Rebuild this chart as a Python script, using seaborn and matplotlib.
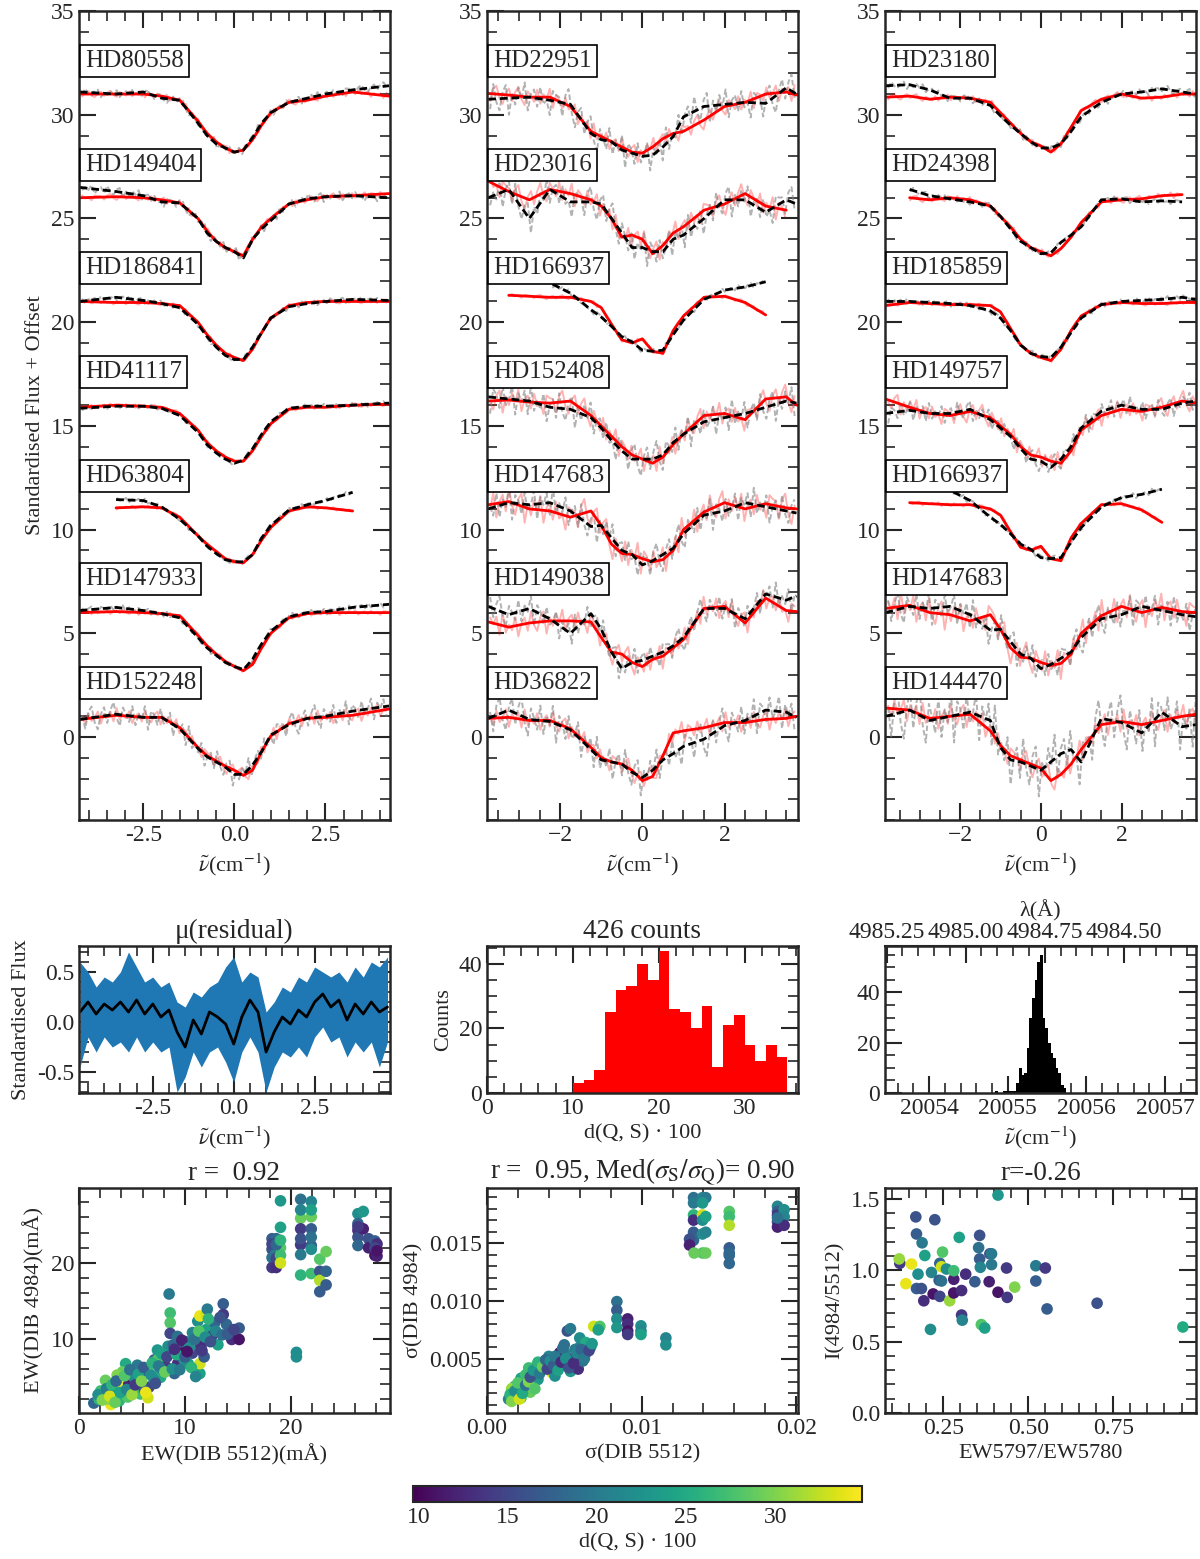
import numpy as np
import pandas as pd
import matplotlib
matplotlib.use("Agg")
import matplotlib.pyplot as plt
import matplotlib.transforms as mtransforms
from matplotlib.colors import Normalize
from matplotlib.ticker import MultipleLocator, FixedLocator, FormatStrFormatter
import seaborn as sns

sns.set_style("ticks")
plt.rcParams["font.family"] = ["Liberation Serif", "DejaVu Serif"]
plt.rcParams["mathtext.fontset"] = "stix"
plt.rcParams["font.size"] = 16
plt.rcParams["axes.linewidth"] = 1.5
plt.rcParams["lines.dashed_pattern"] = [2.8, 1.4]

nan = np.nan
NU = r"$\tilde{\nu}$(cm$^{-1}$)"
TICK_FS, LABEL_FS, TITLE_FS = 17, 16, 19.5

# ---------------- top row: spectra (flux + offset) ----------------
G1 = [-4.25, -3.25, -2.5, -2.0, -1.5, -1.0, -0.75, -0.5, -0.25, 0.0, 0.25, 0.5, 0.75,
      1.0, 1.5, 2.0, 2.5, 3.25, 4.25]
G2 = [-3.75, -3.25, -2.75, -2.25, -1.75, -1.25, -1.0, -0.75, -0.5, -0.25, 0.0, 0.25, 0.5,
      0.75, 1.0, 1.5, 2.0, 2.5, 3.0, 3.5, 3.75]
G3 = [-3.85, -3.25, -2.75, -2.25, -1.75, -1.25, -1.0, -0.75, -0.5, -0.25, 0.0, 0.25, 0.5,
      0.75, 1.0, 1.5, 2.0, 2.5, 3.0, 3.5, 3.85]

COL1_NAMES = ["HD80558", "HD149404", "HD186841", "HD41117", "HD63804", "HD147933", "HD152248"]
COL1_MODEL = [
    [31.0, 31.0, 31.0, 30.9, 30.7, 29.7, 29.1, 28.7, 28.4, 28.2, 28.3, 28.8, 29.5, 30.1, 30.6, 30.7, 30.9, 31.1, 30.9],
    [26.0, 26.05, 26.0, 25.9, 25.75, 25.0, 24.4, 23.9, 23.6, 23.4, 23.2, 24.0, 24.6, 25.0, 25.7, 25.9, 26.05, 26.1, 26.2],
    [21.0, 20.95, 20.95, 20.9, 20.8, 20.0, 19.4, 18.9, 18.5, 18.3, 18.15, 18.7, 19.5, 20.2, 20.8, 20.95, 21.0, 21.0, 21.0],
    [15.9, 16.0, 15.95, 15.9, 15.6, 14.8, 14.2, 13.8, 13.5, 13.3, 13.3, 13.8, 14.5, 15.1, 15.8, 15.9, 15.9, 16.0, 16.05],
    [nan, 11.05, 11.1, 11.05, 10.6, 9.7, 9.3, 8.95, 8.6, 8.45, 8.4, 8.8, 9.5, 10.1, 10.9, 11.1, 11.05, 10.9, nan],
    [6.0, 6.05, 6.0, 5.95, 5.85, 4.9, 4.4, 4.0, 3.65, 3.4, 3.2, 3.5, 4.3, 5.0, 5.75, 5.95, 6.0, 6.0, 6.0],
    [0.85, 1.05, 0.95, 0.95, 0.45, -0.5, -0.9, -1.15, -1.4, -1.6, -1.85, -1.6, -0.7, 0.05, 0.65, 0.9, 0.95, 1.05, 1.35],
]
COL1_OBS = [
    [31.1, 31.0, 31.1, 30.8, 30.7, 29.6, 29.0, 28.6, 28.4, 28.2, 28.3, 28.9, 29.6, 30.1, 30.6, 30.8, 31.0, 31.2, 31.4],
    [26.5, 26.3, 26.1, 25.8, 25.75, 25.0, 24.3, 23.9, 23.6, 23.4, 23.1, 24.0, 24.5, 24.9, 25.7, 25.95, 26.05, 26.1, 26.0],
    [21.0, 21.2, 21.05, 20.9, 20.7, 19.9, 19.3, 18.8, 18.4, 18.2, 18.2, 18.8, 19.5, 20.2, 20.75, 20.9, 21.0, 21.1, 21.05],
    [15.85, 15.95, 15.95, 15.85, 15.5, 14.7, 14.1, 13.7, 13.4, 13.2, 13.35, 13.9, 14.6, 15.2, 15.85, 15.95, 15.95, 16.0, 16.1],
    [nan, 11.45, 11.4, 11.1, 10.5, 9.7, 9.2, 8.85, 8.55, 8.45, 8.45, 8.8, 9.6, 10.2, 10.95, 11.2, 11.4, 11.8, nan],
    [6.1, 6.25, 6.1, 5.95, 5.75, 4.8, 4.3, 3.95, 3.6, 3.4, 3.25, 3.75, 4.5, 5.1, 5.8, 6.0, 6.05, 6.25, 6.4],
    [0.85, 1.1, 0.95, 0.95, 0.4, -0.55, -0.95, -1.2, -1.45, -1.8, -1.8, -1.35, -0.7, 0.1, 0.6, 0.9, 1.0, 1.25, 1.5],
]
COL1_NOISE = [(0.15, 0.2), (0.15, 0.25), (0.1, 0.15), (0.1, 0.12), (0.08, 0.12), (0.12, 0.15), (0.35, 0.6)]

COL2_NAMES = ["HD22951", "HD23016", "HD166937", "HD152408", "HD147683", "HD149038", "HD36822"]
COL2_MODEL = [
    [31.03, 30.95, 30.85, 30.85, 30.4, 29.2, 28.95, 28.7, 28.45, 28.2, 28.15, 28.45, 28.85, 29.1, 29.2, 29.75, 30.4, 30.6, 31.0, 31.1, 30.95],
    [26.8, 26.3, 25.9, 26.4, 26.2, 25.9, 25.6, 25.0, 24.1, 24.2, 24.0, 23.3, 23.7, 24.3, 24.6, 25.4, 25.7, 26.2, 25.6, 25.4, nan],
    [nan, 21.3, 21.25, 21.2, 21.2, 21.0, 20.7, 19.9, 19.15, 19.0, 19.2, 18.6, 18.5, 19.6, 20.3, 21.2, 21.25, 20.95, 20.35, nan, nan],
    [16.2, 16.25, 16.15, 16.1, 16.2, 15.5, 15.0, 14.5, 14.0, 13.6, 13.4, 13.2, 13.5, 14.1, 14.6, 15.5, 15.6, 15.3, 16.3, 16.4, 16.0],
    [11.2, 11.35, 11.0, 10.9, 10.6, 10.9, 10.2, 9.3, 8.85, 8.8, 8.6, 8.45, 8.55, 9.0, 10.0, 10.85, 11.3, 11.0, 11.25, 11.05, 11.0],
    [5.55, 5.3, 5.5, 5.6, 5.6, 5.55, 4.8, 4.1, 4.0, 3.6, 3.4, 3.75, 3.9, 4.3, 4.7, 6.2, 6.3, 5.5, 6.7, 6.1, 6.05],
    [0.9, 0.95, 0.8, 0.8, 0.4, -0.5, -1.0, -1.2, -1.3, -1.6, -2.1, -1.9, -0.9, 0.2, 0.3, 0.45, 0.7, 0.7, 0.85, 0.9, 1.0],
]
COL2_OBS = [
    [30.75, 30.8, 30.85, 30.7, 30.5, 29.1, 28.8, 28.7, 28.3, 28.15, 28.0, 28.05, 28.45, 28.95, 29.9, 30.4, 30.5, 30.6, 30.55, 31.3, 31.0],
    [26.0, 26.4, 25.0, 26.4, 25.8, 25.8, 25.7, 25.0, 24.3, 23.6, 23.6, 23.4, 23.4, 24.0, 24.2, 25.0, 25.9, 25.9, 25.3, 25.9, 25.7],
    [nan, 22.6, 22.3, 21.9, 21.4, 20.6, 20.25, 19.8, 19.3, 19.05, 18.65, 18.6, 18.65, 19.4, 20.1, 21.1, 21.55, 21.7, 21.95, nan, nan],
    [16.4, 16.3, 16.2, 15.9, 15.8, 15.4, 14.9, 14.3, 13.8, 13.4, 13.4, 13.4, 13.6, 14.2, 14.6, 15.2, 15.4, 15.6, 15.9, 16.2, 16.1],
    [11.0, 11.3, 11.2, 11.3, 10.9, 10.15, 10.2, 9.6, 9.0, 8.8, 8.3, 8.5, 8.8, 9.1, 9.8, 10.7, 10.9, 11.3, 11.1, 10.9, 10.8],
    [6.3, 5.9, 6.2, 5.7, 5.0, 5.95, 5.2, 4.1, 3.3, 3.6, 3.7, 3.9, 4.1, 4.4, 4.8, 6.2, 6.2, 5.7, 6.9, 6.6, 6.8],
    [0.9, 1.3, 0.85, 0.75, 0.35, -0.6, -1.1, -1.2, -1.3, -1.7, -1.95, -1.6, -1.1, -0.8, -0.45, -0.1, 0.55, 0.8, 1.3, 1.2, 0.95],
]
COL2_NOISE = [(0.45, 0.8), (0.55, 0.8), (0.1, 0.15), (0.6, 0.8), (0.75, 0.8), (0.6, 0.7), (0.5, 0.9)]

COL3_NAMES = ["HD23180", "HD24398", "HD185859", "HD149757", "HD166937", "HD147683", "HD144470"]
COL3_MODEL = [
    [30.85, 30.9, 30.75, 30.85, 30.8, 30.6, 30.1, 29.6, 29.1, 28.7, 28.5, 28.2, 28.6, 29.4, 30.2, 30.75, 31.0, 30.8, 30.85, 31.0, 31.0],
    [nan, 26.0, 25.9, 26.0, 25.9, 25.6, 25.1, 24.6, 24.0, 23.6, 23.4, 23.2, 23.55, 24.1, 24.8, 25.8, 25.9, 25.95, 26.1, 26.15, nan],
    [20.8, 20.95, 20.9, 20.85, 20.85, 20.8, 20.5, 19.7, 18.9, 18.5, 18.3, 18.15, 18.7, 19.6, 20.3, 20.85, 20.95, 20.9, 20.9, 20.95, 20.95],
    [16.3, 15.9, 15.6, 15.5, 15.7, 15.4, 15.0, 14.6, 14.0, 13.6, 13.5, 13.3, 13.2, 13.8, 14.8, 15.5, 15.8, 15.7, 15.9, 16.2, 16.1],
    [v - 10 for v in COL2_MODEL[2]],
    [v - 5 for v in COL2_MODEL[4]],
    [1.4, 1.3, 0.9, 1.0, 1.1, 0.3, -0.4, -0.9, -1.1, -1.3, -1.5, -2.1, -1.8, -1.3, -0.6, 0.6, 0.75, 0.6, 0.8, 1.0, 1.1],
]
COL3_OBS = [
    [31.4, 31.45, 31.2, 30.8, 30.8, 30.45, 29.95, 29.5, 29.1, 28.7, 28.4, 28.4, 28.6, 29.2, 29.9, 30.6, 31.0, 31.1, 31.25, 31.1, 31.0],
    [nan, 26.4, 26.1, 25.95, 25.8, 25.6, 25.1, 24.5, 23.9, 23.6, 23.3, 23.35, 23.85, 24.2, 24.6, 25.9, 25.95, 25.8, 25.85, 25.8, nan],
    [21.0, 21.0, 20.95, 20.9, 20.8, 20.55, 20.2, 19.6, 18.9, 18.5, 18.35, 18.3, 18.8, 19.5, 20.2, 20.85, 21.0, 21.05, 21.1, 21.2, 21.1],
    [15.6, 15.75, 15.6, 15.6, 15.8, 15.3, 14.9, 14.5, 13.9, 13.4, 13.3, 13.0, 13.4, 14.0, 14.9, 15.7, 16.0, 15.8, 15.8, 16.1, 16.2],
    [v - 10 for v in COL2_OBS[2]],
    [v - 5 for v in COL2_OBS[4]],
    [1.0, 1.3, 0.8, 1.0, 1.2, 0.8, -0.5, -1.1, -1.2, -1.4, -1.6, -1.2, -0.8, -0.6, -1.2, 0.9, 0.7, 0.2, 1.2, 0.5, 0.6],
]
COL3_NOISE = [(0.15, 0.2), (0.15, 0.15), (0.1, 0.15), (0.5, 0.5), (0.1, 0.15), (0.75, 0.8), (0.6, 1.3)]

# hand-typed jitter pattern used for the unsmoothed (noisy) versions
JIT = [0.3, -0.8, 0.5, 0.9, -0.4, -1.0, 0.2, 0.7, -0.6, 0.4, 1.0, -0.3, -0.9, 0.6, 0.1, -0.5,
       0.8, -0.7, 0.3, -0.2, 0.9, -1.0, 0.5, 0.2, -0.6, 0.7, -0.4, 0.0, 0.8, -0.9, 0.4, -0.1,
       0.6, -0.8, 1.0, -0.5, 0.2, -0.3, 0.7, -0.9, 0.1, 0.5, -0.6, 0.9, -0.2, -0.7, 0.4, 0.8,
       -1.0, 0.3, -0.4, 0.6, -0.1, 0.9, -0.8, 0.2, 0.5, -0.5, 0.7, -0.3, 0.0, -0.9, 0.6, 0.4]

# ---------------- middle row ----------------
RES_X = [-4.75, -4.5, -4.25, -4.0, -3.75, -3.5, -3.25, -3.0, -2.75, -2.5, -2.25, -2.0, -1.75,
         -1.5, -1.25, -1.0, -0.75, -0.5, -0.25, 0.0, 0.25, 0.5, 0.75, 1.0, 1.25, 1.5, 1.75,
         2.0, 2.25, 2.5, 2.75, 3.0, 3.25, 3.5, 3.75, 4.0, 4.25, 4.5, 4.75]
RES_MEAN = [0.10, 0.20, 0.08, 0.18, 0.12, 0.20, 0.10, 0.22, 0.08, 0.18, 0.05, 0.12, -0.10,
            -0.25, 0.02, -0.12, 0.10, 0.05, -0.02, -0.22, 0.05, 0.22, 0.10, -0.30, -0.10, 0.05,
            -0.02, 0.12, 0.05, 0.20, 0.28, 0.15, 0.22, 0.02, 0.18, 0.08, 0.20, 0.10, 0.15]
RES_UP = [0.60, 0.50, 0.35, 0.45, 0.40, 0.50, 0.70, 0.55, 0.40, 0.45, 0.35, 0.40, 0.20,
          0.15, 0.30, 0.25, 0.35, 0.40, 0.55, 0.65, 0.40, 0.50, 0.45, 0.10, 0.20, 0.35,
          0.30, 0.45, 0.40, 0.55, 0.50, 0.45, 0.50, 0.40, 0.55, 0.45, 0.60, 0.55, 0.65]
RES_LO = [-0.45, -0.15, -0.30, -0.15, -0.25, -0.20, -0.30, -0.15, -0.30, -0.20, -0.30, -0.25, -0.70,
          -0.55, -0.30, -0.45, -0.30, -0.25, -0.40, -0.60, -0.30, -0.15, -0.30, -0.70, -0.45, -0.30,
          -0.35, -0.25, -0.35, -0.15, -0.05, -0.20, -0.15, -0.35, -0.20, -0.30, -0.20, -0.45, -0.20]

D_COUNTS = [3, 4, 7, 25, 32, 33, 40, 35, 44, 26, 25, 20, 27, 8, 21, 24, 15, 10, 15, 11]
D_START, D_WIDTH = 10.0, 1.25

NU_COUNTS = [1, 0, 0, 1, 1, 1, 1, 1, 4, 10, 7, 8, 18, 30, 38, 45, 52, 55, 30, 26, 20, 16,
             14, 10, 8, 3, 2]
NU_START, NU_WIDTH = 20054.84, 0.0335
N_AIR = 1.000285

# ---------------- bottom row scatters (x, y, d(Q,S)*100) ----------------
EW5512 = [18.2, 18.2, 18.2, 18.2, 18.6, 18.6, 18.6, 18.6, 19.0, 19.0, 19.0, 19.0, 19.0,
          20.9, 20.9, 20.9, 20.9, 20.9, 20.9, 21.9, 21.9, 21.9, 21.9, 21.9, 21.9,
          22.7, 22.7, 22.7, 22.7, 23.3, 23.3, 23.3, 20.5, 20.5,
          26.3, 26.3, 26.3, 26.3, 26.3, 26.8, 26.8, 27.3, 27.3, 27.9, 27.9, 28.1, 28.1,
          18.2, 18.6, 19.0, 20.9, 20.9, 21.9, 21.9, 26.3, 27.9, 28.1,
          1.4, 2.05, 2.5, 3.0, 3.3, 3.8, 4.1, 4.4, 4.1, 4.7, 5.2, 5.5, 5.8, 6.5, 6.5, 6.6,
          7.1, 7.4, 7.7, 8.0, 8.2, 8.5, 8.6, 8.6, 8.6, 8.7, 9.0, 9.3, 9.6, 9.8, 10.1, 10.3,
          10.7, 11.2, 11.4, 11.4, 11.2, 11.4, 12.0, 12.0, 12.1, 12.5, 12.8, 13.1, 13.6, 13.6,
          13.9, 14.4, 15.1, 15.1, 11.8, 11.5, 8.4, 7.4, 5.8, 4.9, 2.4, 1.9, 3.2, 7.1, 7.7,
          9.9, 10.7, 9.3, 3.6, 4.6, 6.2, 2.8,
          1.8, 2.2, 2.6, 2.9, 3.1, 3.4, 3.5, 3.9, 4.3, 4.5, 4.8, 5.0, 5.3, 5.6, 5.9, 6.1,
          6.3, 6.8, 6.9, 7.2, 7.5, 7.8, 8.1, 8.3, 8.8, 8.9, 9.2, 9.5, 9.7, 10.0, 10.4, 10.6,
          10.9, 11.0, 11.3, 11.6, 11.9, 12.2, 12.4, 12.9, 13.3, 13.5, 14.0, 14.6, 10.2, 9.0]
EW4984 = [23.2, 21.8, 20.7, 19.4, 23.2, 21.7, 20.6, 19.4, 28.2, 24.7, 22.0, 21.0, 20.0,
          28.4, 25.9, 24.5, 22.4, 21.1, 18.4, 28.1, 26.1, 24.5, 22.3, 21.8, 18.6,
          20.5, 18.9, 17.7, 16.2, 21.5, 18.9, 17.1, 8.2, 7.6,
          26.5, 25.2, 24.3, 23.4, 22.3, 26.8, 24.5, 23.2, 22.0, 22.9, 21.0, 22.5, 20.9,
          22.5, 22.4, 23.0, 27.0, 23.2, 27.0, 23.4, 24.8, 22.0, 21.6,
          1.5, 3.1, 4.5, 1.3, 2.7, 1.8, 3.6, 6.7, 5.6, 4.0, 4.9, 6.5, 2.7, 2.2, 5.8, 3.6,
          7.2, 8.5, 4.9, 7.2, 6.3, 15.9, 13.4, 12.1, 10.7, 8.1, 5.4, 6.7, 9.0, 8.1, 9.6, 6.7,
          8.1, 9.4, 5.4, 6.7, 12.3, 13.0, 13.2, 11.2, 13.9, 10.3, 12.1, 9.2, 14.6, 13.2,
          11.9, 9.9, 11.4, 9.9, 7.6, 9.0, 9.0, 7.2, 5.4, 3.1, 2.7, 2.0, 3.1, 4.5, 6.0,
          7.2, 10.8, 10.3, 5.2, 2.3, 3.2, 2.0,
          2.6, 1.9, 3.4, 2.4, 3.9, 1.6, 4.4, 2.9, 5.1, 3.3, 5.9, 2.6, 3.9, 5.3, 4.4, 6.2,
          2.9, 5.2, 6.8, 4.1, 6.4, 8.0, 5.6, 7.6, 6.0, 9.2, 7.9, 5.9, 9.8, 7.6, 8.8, 6.2,
          9.9, 5.0, 11.0, 8.4, 10.2, 12.6, 9.6, 11.0, 12.8, 10.5, 10.6, 11.2, 8.3, 8.6]
D_EW = [17, 16, 19, 14, 18, 20, 15, 13, 23, 24, 28, 27, 33,
        19, 29, 14, 14, 20, 26, 21, 29, 17, 17, 22, 27,
        28, 16, 32, 17, 29, 18, 17, 22, 22,
        22, 18, 13, 16, 18, 23, 12, 16, 12, 17, 11, 13, 12,
        15, 18, 26, 21, 16, 24, 19, 14, 15, 11,
        18, 27, 29, 34, 30, 26, 34, 25, 29, 12, 22, 20, 27, 33, 29, 15,
        17, 23, 25, 19, 14, 20, 27, 28, 15, 21, 18, 13, 16, 11, 20, 24,
        15, 29, 24, 33, 22, 34, 33, 24, 20, 14, 18, 24, 17, 14,
        18, 13, 17, 11, 17, 13, 22, 28, 19, 31, 24, 26, 22, 21, 23,
        22, 21, 19, 30, 28, 17, 31,
        22, 30, 20, 33, 26, 29, 18, 24, 28, 21, 19, 31, 14, 24, 30, 17,
        34, 22, 26, 16, 20, 24, 29, 15, 22, 18, 25, 20, 12, 17, 22, 26,
        19, 21, 28, 14, 22, 26, 16, 21, 16, 19, 17, 15, 11, 13]

SIG5512 = [0.01336, 0.01336, 0.01336, 0.01336, 0.01336, 0.0131, 0.0131,
           0.01394, 0.01394, 0.01394, 0.01394, 0.01394, 0.01415, 0.01415, 0.01415, 0.01415, 0.0134,
           0.01567, 0.01567, 0.01567, 0.01567, 0.01567, 0.01567,
           0.01879, 0.01879, 0.01879, 0.01879, 0.01879, 0.01922, 0.01922, 0.01922,
           0.01336, 0.01394, 0.01879, 0.01567,
           0.0084, 0.0084, 0.0084, 0.0084, 0.0091, 0.0091, 0.0091, 0.0091, 0.00996, 0.00996, 0.00996,
           0.01157, 0.01157, 0.0069, 0.0073, 0.0072, 0.0052, 0.0054, 0.006, 0.006, 0.0064,
           0.0014, 0.0017, 0.0018, 0.0019, 0.002, 0.0022, 0.0023, 0.0024, 0.0026, 0.0028, 0.0029,
           0.003, 0.0032, 0.0033, 0.0035, 0.0037, 0.004, 0.0042, 0.0045, 0.0047, 0.005, 0.0052,
           0.0054, 0.0055, 0.0057, 0.0059, 0.0062, 0.0064, 0.0067, 0.0047, 0.004, 0.0036, 0.0027,
           0.0022, 0.0016, 0.0044, 0.005, 0.0058,
           0.0015, 0.0016, 0.0018, 0.002, 0.0021, 0.0023, 0.0025, 0.0025, 0.0027, 0.0028, 0.003,
           0.0031, 0.0033, 0.0034, 0.0036, 0.0038, 0.0039, 0.0041, 0.0043, 0.0044, 0.0046, 0.0048,
           0.0049, 0.0051, 0.0053, 0.0056, 0.0058, 0.0061, 0.0063, 0.0066, 0.0068]
SIG4984 = [0.01896, 0.01746, 0.01701, 0.01596, 0.01527, 0.01536, 0.01485,
           0.01896, 0.01746, 0.01701, 0.01581, 0.01416, 0.01896, 0.01731, 0.01596, 0.01416, 0.01416,
           0.01776, 0.01731, 0.01656, 0.01461, 0.01416, 0.01326,
           0.01821, 0.01776, 0.01746, 0.01686, 0.01641, 0.01791, 0.01731, 0.01656,
           0.0185, 0.0185, 0.0172, 0.01396,
           0.00995, 0.0092, 0.00845, 0.0077, 0.00845, 0.008, 0.0074, 0.0071, 0.00785, 0.0074, 0.0071,
           0.0068, 0.0062, 0.0078, 0.0078, 0.0075, 0.0074, 0.0076, 0.0068, 0.006, 0.0064,
           0.0015, 0.002, 0.0026, 0.0018, 0.0023, 0.0016, 0.0025, 0.0031, 0.0035, 0.0021, 0.0037,
           0.0028, 0.0044, 0.0032, 0.004, 0.0046, 0.0045, 0.0038, 0.0049, 0.0043, 0.0056, 0.0045,
           0.0039, 0.005, 0.0058, 0.0041, 0.0048, 0.0055, 0.006, 0.0055, 0.0052, 0.0047, 0.0042,
           0.0033, 0.0024, 0.0035, 0.0062, 0.0052,
           0.0019, 0.0013, 0.0022, 0.0029, 0.0015, 0.002, 0.0027, 0.0036, 0.003, 0.0034, 0.004,
           0.0024, 0.0047, 0.0037, 0.0043, 0.0049, 0.0041, 0.0048, 0.0044, 0.0052, 0.004, 0.0047,
           0.0059, 0.005, 0.0042, 0.0046, 0.0055, 0.0058, 0.005, 0.0057, 0.0063]
D_SIG = [19, 26, 13, 17, 18, 16, 12,
         21, 33, 22, 22, 28, 20, 24, 21, 29, 29,
         28, 27, 32, 17, 18, 18,
         21, 17, 14, 16, 12, 22, 21, 13,
         20, 23, 19, 18,
         19, 17, 22, 23, 12, 13, 11, 14, 22, 21, 24,
         21, 22, 33, 28, 24, 16, 20, 22, 21, 25,
         21, 29, 25, 27, 15, 28, 34, 26, 23, 29, 16,
         18, 28, 23, 27, 17, 20, 33, 18, 14, 21, 12,
         23, 16, 20, 13, 19, 17, 21, 12, 21, 24, 27,
         24, 31, 22, 19, 15,
         26, 30, 22, 28, 33, 25, 19, 27, 30, 16, 23,
         28, 26, 20, 29, 18, 15, 22, 17, 20, 24, 13,
         19, 22, 16, 13, 21, 18, 20, 15, 23]

RATIO_5797 = [0.1225, 0.1206, 0.1568, 0.1402, 0.1695, 0.1715, 0.188, 0.196, 0.176, 0.1715,
              0.186, 0.193, 0.2253, 0.2155, 0.2204, 0.2126, 0.238, 0.240, 0.240, 0.245,
              0.248, 0.245, 0.2595, 0.269, 0.281, 0.281, 0.281, 0.297, 0.304, 0.316,
              0.304, 0.306, 0.343, 0.357, 0.354, 0.357, 0.359, 0.385, 0.387, 0.392,
              0.392, 0.362, 0.372, 0.411, 0.411, 0.436, 0.438, 0.460, 0.522, 0.522,
              0.550, 0.555, 0.702, 0.954]
I_4984 = [1.050, 1.081, 1.045, 0.907, 1.376, 1.256, 1.194, 1.105, 0.974, 0.873,
          0.873, 0.787, 1.356, 0.986, 0.835, 0.586, 0.931, 1.050, 0.818, 0.926,
          1.129, 1.026, 1.010, 0.787, 0.842, 0.938, 0.998, 1.232, 0.859, 0.974,
          0.687, 0.651, 0.921, 1.246, 1.160, 1.081, 1.022, 0.921, 1.117, 1.117,
          1.041, 0.620, 0.596, 1.529, 0.847, 1.017, 0.811, 0.883, 1.033, 0.926,
          1.017, 0.730, 0.770, 0.603]
D_I = [14, 31, 34, 34, 16, 17, 20, 24, 22, 17,
       16, 13, 16, 21, 11, 22, 17, 18, 15, 19,
       28, 33, 22, 31, 11, 12, 27, 24, 13, 13,
       14, 21, 17, 16, 19, 17, 21, 12, 16, 20,
       20, 28, 24, 23, 11, 14, 14, 30, 20, 17,
       14, 17, 16, 25]

VMIN, VMAX = 9.7, 34.85
norm = Normalize(VMIN, VMAX)


def noisy(xf, grid, vals, amp, shift):
    g = np.asarray(grid, float)
    v = np.asarray(vals, float)
    ok = ~np.isnan(v)
    base = np.interp(xf, g[ok], v[ok], left=nan, right=nan)
    return base + amp * np.resize(np.roll(JIT, shift), len(xf))


def style(ax, xminor, yminor):
    ax.xaxis.set_minor_locator(MultipleLocator(xminor))
    ax.yaxis.set_minor_locator(MultipleLocator(yminor))
    ax.tick_params(which="both", direction="in", top=True, right=True, labelsize=TICK_FS)
    ax.tick_params(which="major", length=12, width=1.5)
    ax.tick_params(which="minor", length=7, width=1.2)
    for sp in ax.spines.values():
        sp.set_linewidth(1.8)


def draw_column(ax, grid, names, model, obs, noise, xlim):
    xf = np.linspace(xlim[0], xlim[1], 100)
    trans = mtransforms.blended_transform_factory(ax.transAxes, ax.transData)
    for i, name in enumerate(names):
        an, ag = noise[i]
        sns.lineplot(x=xf, y=noisy(xf, grid, model[i], an, 7 * i), ax=ax, color="red",
                     alpha=0.3, lw=1.4, estimator=None, sort=False)
        sns.lineplot(x=xf, y=noisy(xf, grid, obs[i], ag, 7 * i + 23), ax=ax, color="gray",
                     alpha=0.6, lw=1.4, linestyle="--", estimator=None, sort=False)
        sns.lineplot(x=grid, y=model[i], ax=ax, color="red", lw=2.0, estimator=None, sort=False)
        sns.lineplot(x=grid, y=obs[i], ax=ax, color="black", lw=2.0, linestyle="--",
                     estimator=None, sort=False)
        ax.text(0.02, 32.6 - 5 * i, name, transform=trans, fontsize=18, ha="left", va="center",
                zorder=20, bbox=dict(boxstyle="square,pad=0.2", fc="white", ec="black", lw=1.2))
    ax.set_xlim(*xlim)
    ax.set_ylim(-4, 35)
    ax.yaxis.set_major_locator(MultipleLocator(5))
    ax.set_xlabel(NU, fontsize=LABEL_FS)
    ax.set_ylabel("")


fig = plt.figure(figsize=(12, 15.59), dpi=100)

W = 0.259
COLS = [0.0658, 0.4058, 0.7375]
top_axes = [fig.add_axes([c, 0.4740, W, 0.5189]) for c in COLS]
mid_axes = [fig.add_axes([c, 0.2989, W, 0.0943]) for c in COLS]
bot_axes = [fig.add_axes([c, 0.0937, W, 0.1443]) for c in COLS]

# top spectra
ax = top_axes[0]
draw_column(ax, G1, COL1_NAMES, COL1_MODEL, COL1_OBS, COL1_NOISE, (-4.27, 4.27))
ax.xaxis.set_major_locator(MultipleLocator(2.5))
ax.xaxis.set_major_formatter(FormatStrFormatter("%.1f"))
style(ax, 0.5, 1)
ax.set_ylabel("Standardised Flux + Offset", fontsize=LABEL_FS)

ax = top_axes[1]
draw_column(ax, G2, COL2_NAMES, COL2_MODEL, COL2_OBS, COL2_NOISE, (-3.78, 3.78))
ax.xaxis.set_major_locator(MultipleLocator(2))
style(ax, 0.5, 1)

ax = top_axes[2]
draw_column(ax, G3, COL3_NAMES, COL3_MODEL, COL3_OBS, COL3_NOISE, (-3.86, 3.84))
ax.xaxis.set_major_locator(MultipleLocator(2))
style(ax, 0.5, 1)

# residual
ax = mid_axes[0]
ax.fill_between(RES_X, RES_LO, RES_UP, color="#1f77b4", lw=0)
sns.lineplot(x=RES_X, y=RES_MEAN, ax=ax, color="black", lw=2, estimator=None, sort=False)
ax.set_xlim(-4.78, 4.82)
ax.set_ylim(-0.71, 0.76)
ax.xaxis.set_major_locator(MultipleLocator(2.5))
ax.xaxis.set_major_formatter(FormatStrFormatter("%.1f"))
ax.yaxis.set_major_locator(MultipleLocator(0.5))
ax.yaxis.set_major_formatter(FormatStrFormatter("%.1f"))
style(ax, 0.5, 0.1)
ax.set_title("\u03bc(residual)", fontsize=TITLE_FS)
ax.set_xlabel(NU, fontsize=LABEL_FS)
ax.set_ylabel("Standardised Flux", fontsize=LABEL_FS)

# d(Q,S) histogram
ax = mid_axes[1]
d_df = pd.DataFrame({"d": D_START + D_WIDTH * (np.arange(len(D_COUNTS)) + 0.5),
                     "n": D_COUNTS})
sns.histplot(data=d_df, x="d", weights="n", bins=len(D_COUNTS),
             binrange=(D_START, D_START + D_WIDTH * len(D_COUNTS)), ax=ax,
             color="red", alpha=1, linewidth=0)
ax.set_xlim(0, 36.2)
ax.set_ylim(0, 45.5)
ax.xaxis.set_major_locator(MultipleLocator(10))
ax.yaxis.set_major_locator(MultipleLocator(20))
style(ax, 2, 5)
ax.set_title("426 counts", fontsize=TITLE_FS)
ax.set_xlabel("d(Q, S) \u00b7 100", fontsize=LABEL_FS)
ax.set_ylabel("Counts", fontsize=LABEL_FS)

# line-centre histogram
ax = mid_axes[2]
nu_df = pd.DataFrame({"nu": NU_START + NU_WIDTH * (np.arange(len(NU_COUNTS)) + 0.5),
                      "n": NU_COUNTS})
sns.histplot(data=nu_df, x="nu", weights="n", bins=len(NU_COUNTS),
             binrange=(NU_START, NU_START + NU_WIDTH * len(NU_COUNTS)), ax=ax,
             color="black", alpha=1, linewidth=0)
ax.set_xlim(20053.44, 20057.39)
ax.set_ylim(0, 58.5)
ax.xaxis.set_major_locator(MultipleLocator(1))
ax.xaxis.set_major_formatter(FormatStrFormatter("%d"))
ax.yaxis.set_major_locator(MultipleLocator(20))
style(ax, 0.2, 5)
ax.tick_params(which="both", top=False)
ax.set_xlabel(NU, fontsize=LABEL_FS)
ax.set_ylabel("")


def nu_lam(v):
    v = np.asarray(v, float)
    with np.errstate(divide="ignore"):
        return 1e8 / (v * N_AIR)


sec = ax.secondary_xaxis("top", functions=(nu_lam, nu_lam))
sec.xaxis.set_major_locator(FixedLocator([4985.25, 4985.0, 4984.75, 4984.5]))
sec.xaxis.set_minor_locator(MultipleLocator(0.05))
sec.xaxis.set_major_formatter(FormatStrFormatter("%.2f"))
sec.tick_params(which="both", direction="in", labelsize=TICK_FS, pad=2)
sec.tick_params(which="major", length=12, width=1.5)
sec.tick_params(which="minor", length=7, width=1.2)
sec.set_xlabel("\u03bb(\u00c5)", fontsize=LABEL_FS)

# scatters
ax = bot_axes[0]
sns.scatterplot(x=EW5512, y=EW4984, hue=D_EW, palette="viridis", hue_norm=norm, s=70,
                linewidth=0, legend=False, ax=ax)
ax.set_xlim(0, 29.3)
ax.set_ylim(0.2, 29.9)
ax.xaxis.set_major_locator(MultipleLocator(10))
ax.yaxis.set_major_locator(MultipleLocator(10))
style(ax, 2, 2)
ax.set_title("r =  0.92", fontsize=TITLE_FS)
ax.set_xlabel("EW(DIB 5512)(m\u00c5)", fontsize=LABEL_FS)
ax.set_ylabel("EW(DIB 4984)(m\u00c5)", fontsize=LABEL_FS)

ax = bot_axes[1]
sns.scatterplot(x=SIG5512, y=SIG4984, hue=D_SIG, palette="viridis", hue_norm=norm, s=70,
                linewidth=0, legend=False, ax=ax)
ax.set_xlim(0, 0.0201)
ax.set_ylim(0.0003, 0.0198)
ax.xaxis.set_major_locator(MultipleLocator(0.01))
ax.xaxis.set_major_formatter(FormatStrFormatter("%.2f"))
ax.yaxis.set_major_locator(MultipleLocator(0.005))
ax.yaxis.set_major_formatter(FormatStrFormatter("%.3f"))
style(ax, 0.002, 0.001)
ax.set_title(r"r =  0.95, Med($\sigma_\mathrm{S}/\sigma_\mathrm{Q}$)= 0.90", fontsize=TITLE_FS)
ax.set_xlabel("\u03c3(DIB 5512)", fontsize=LABEL_FS)
ax.set_ylabel("\u03c3(DIB 4984)", fontsize=LABEL_FS)

ax = bot_axes[2]
sns.scatterplot(x=RATIO_5797, y=I_4984, hue=D_I, palette="viridis", hue_norm=norm, s=70,
                linewidth=0, legend=False, ax=ax)
ax.set_xlim(0.079, 0.992)
ax.set_ylim(0, 1.579)
ax.xaxis.set_major_locator(MultipleLocator(0.25))
ax.xaxis.set_major_formatter(FormatStrFormatter("%.2f"))
ax.yaxis.set_major_locator(MultipleLocator(0.5))
ax.yaxis.set_major_formatter(FormatStrFormatter("%.1f"))
style(ax, 0.05, 0.1)
ax.set_title("r=-0.26", fontsize=TITLE_FS)
ax.set_xlabel("EW5797/EW5780", fontsize=LABEL_FS)
ax.set_ylabel("I(4984/5512)", fontsize=LABEL_FS)

# colorbar
cax = fig.add_axes([0.3442, 0.0366, 0.3742, 0.0103])
sm = plt.cm.ScalarMappable(norm=norm, cmap="viridis")
cb = fig.colorbar(sm, cax=cax, orientation="horizontal")
cb.outline.set_linewidth(1.5)
cax.xaxis.set_major_locator(MultipleLocator(5))
cax.xaxis.set_minor_locator(MultipleLocator(1))
cax.tick_params(which="both", direction="in", top=True, bottom=True, labelsize=TICK_FS)
cax.tick_params(which="major", length=8, width=1.5)
cax.tick_params(which="minor", length=4, width=1.0)
cb.set_label("d(Q, S) \u00b7 100", fontsize=LABEL_FS)

fig.savefig("out.png", dpi=100)
